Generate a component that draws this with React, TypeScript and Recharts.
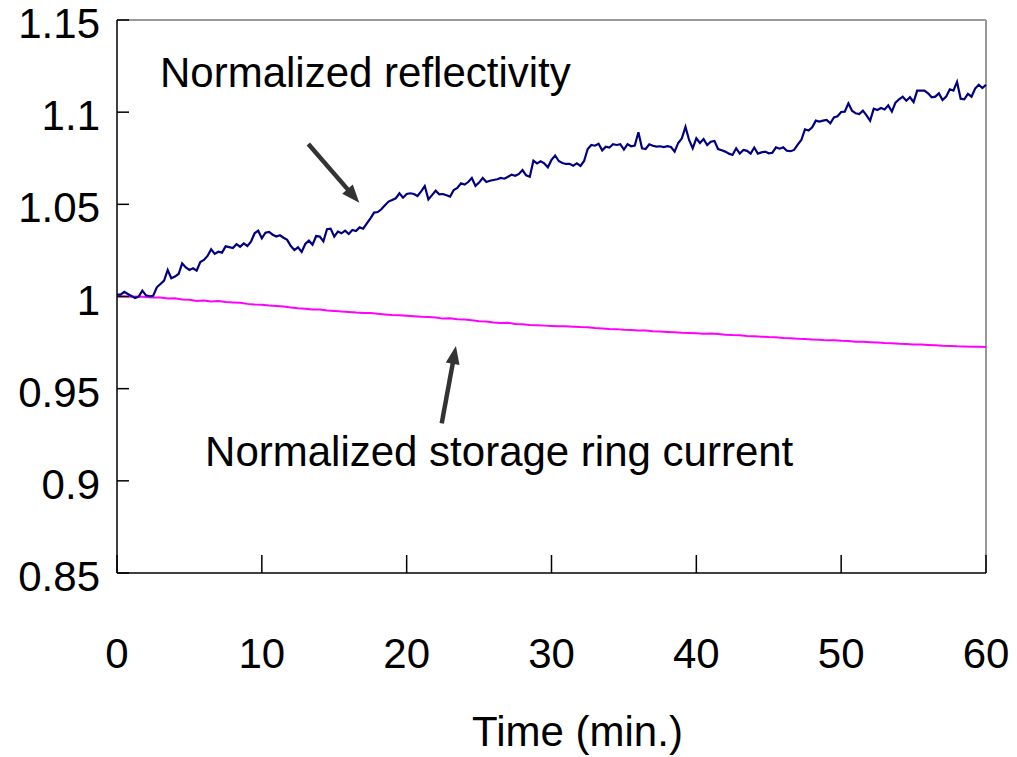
import React from 'react';
import { LineChart, Line, XAxis, YAxis, ReferenceLine, ReferenceDot, Label } from 'recharts';

// sampling steps (minutes)
const REFL_STEP = 0.25;
const CURRENT_STEP = 0.5;

const timeTicks = [0, 10, 20, 30, 40, 50, 60];
const valueTicks = [0.85, 0.9, 0.95, 1, 1.05, 1.1, 1.15];

// normalized reflectivity, one reading every 0.25 min from 0 to 60
const reflectivity = [
  1.001, 1.001, 1.0025, 1.0014, 1.0003, 0.9992, 0.9999, 1.0032, 1.0006, 1.0001,
  1.0004, 1.005, 1.0068, 1.0086, 1.0144, 1.0099, 1.0108, 1.0122, 1.018, 1.0158,
  1.0144, 1.0153, 1.014, 1.0187, 1.0198, 1.022, 1.0256, 1.0231, 1.0243, 1.0238,
  1.0272, 1.0268, 1.0263, 1.0284, 1.027, 1.0288, 1.0274, 1.0297, 1.0343, 1.0357,
  1.0316, 1.0346, 1.035, 1.0335, 1.0325, 1.0332, 1.0319, 1.0307, 1.0274, 1.0252,
  1.0267, 1.0242, 1.0285, 1.0303, 1.0281, 1.0328, 1.0325, 1.0299, 1.0365, 1.0368,
  1.0325,
  1.0352, 1.0343, 1.0357, 1.0339, 1.0361, 1.0355, 1.0375, 1.0368, 1.0397, 1.0424,
  1.0455, 1.0458, 1.0473, 1.0495, 1.0515, 1.0524, 1.0533, 1.056, 1.0536, 1.0556,
  1.056, 1.0556, 1.0545, 1.057, 1.0599, 1.0527, 1.055, 1.0574, 1.0554, 1.0556,
  1.0549, 1.0542, 1.0578, 1.0589, 1.0614, 1.0607, 1.0621, 1.0643, 1.06, 1.0618,
  1.0643, 1.0621, 1.0628, 1.0632, 1.0636, 1.0643, 1.0639, 1.065, 1.0661, 1.0655,
  1.0665, 1.0686, 1.0657, 1.065, 1.0737, 1.0722, 1.0733, 1.0722, 1.0701, 1.0741,
  1.0765, 1.0735, 1.0724, 1.0719, 1.072, 1.071, 1.0722, 1.0708, 1.0735, 1.08,
  1.0822, 1.0818, 1.0829, 1.0793, 1.0813, 1.0808, 1.0826, 1.0822, 1.0826, 1.0797,
  1.0826, 1.0815, 1.0819, 1.0891, 1.0804, 1.08, 1.0826, 1.0818, 1.0813, 1.0815,
  1.0811, 1.0816, 1.0811, 1.0786, 1.0833, 1.0858, 1.092, 1.0849, 1.0804, 1.0858,
  1.0833, 1.0854, 1.0822, 1.084, 1.0844, 1.08, 1.0793, 1.0786, 1.0775, 1.0768,
  1.0804, 1.0775, 1.0795, 1.079, 1.0775, 1.0808, 1.0775, 1.0782, 1.0786, 1.0777,
  1.078, 1.0809, 1.0802, 1.0809, 1.0791, 1.0788, 1.0795, 1.0824, 1.0849, 1.0907,
  1.09, 1.0918, 1.0954, 1.0949, 1.0954, 1.0958, 1.094, 1.0972, 1.0978, 1.1001,
  1.1003, 1.1048, 1.1008, 1.0994, 1.099, 1.1008, 1.0983, 1.0954, 1.1019, 1.1012,
  1.1023, 1.1015, 1.1037, 1.1003, 1.1052, 1.107, 1.1084, 1.1062, 1.1081, 1.1055,
  1.1117, 1.1117, 1.1117, 1.1102, 1.1081, 1.1084, 1.1102, 1.1066, 1.1084, 1.1124,
  1.1117, 1.1164, 1.1073, 1.107, 1.1099, 1.1084, 1.1128, 1.1149, 1.1131, 1.1149,
];

// normalized storage ring current, one reading every 0.5 min from 0 to 60
const ringCurrent = [
  1.0, 1.0, 0.9999, 1.0, 0.9997, 0.9994, 0.9995, 0.9989, 0.999, 0.9984,
  0.9982, 0.9976, 0.9978, 0.9973, 0.9975, 0.997, 0.9968, 0.9966, 0.996, 0.9957,
  0.9955, 0.9951, 0.9949, 0.9946, 0.994, 0.9936, 0.9933, 0.9929, 0.993, 0.9924,
  0.9922, 0.9918, 0.9916, 0.9913, 0.9911, 0.991, 0.9906, 0.9903, 0.99, 0.9898,
  0.9896, 0.9893, 0.989, 0.9889, 0.9886, 0.988, 0.9882, 0.9876, 0.9875, 0.9871,
  0.9866, 0.9864, 0.9859, 0.9856, 0.9857, 0.9851, 0.9849, 0.9846, 0.9844, 0.9842,
  0.984, 0.9838, 0.9838, 0.9836, 0.9834, 0.9833, 0.9829, 0.9827, 0.9824, 0.9823,
  0.982, 0.9818, 0.9816, 0.9815, 0.9812, 0.981, 0.9808, 0.9806, 0.9803, 0.9802,
  0.98, 0.9798, 0.9799, 0.9796, 0.9793, 0.9791, 0.979, 0.9786, 0.9784, 0.9782,
  0.978, 0.9779, 0.9775, 0.9774, 0.9771, 0.977, 0.9767, 0.9766, 0.9762, 0.9763,
  0.976, 0.9758, 0.9755, 0.9754, 0.9752, 0.975, 0.9748, 0.9747, 0.9744, 0.9742,
  0.974, 0.9739, 0.9737, 0.9735, 0.9733, 0.9732, 0.973, 0.9729, 0.9728, 0.9727,
  0.9726,
];

const reflData = reflectivity.map((v, i) => ({ t: i * REFL_STEP, v }));
const currentData = ringCurrent.map((v, i) => ({ t: i * CURRENT_STEP, v }));

const FONT = '"Liberation Sans", Arial, sans-serif';
const FONT_SIZE = 42;
const Y_TICK_MARGIN = 17;
const X_TICK_MARGIN = 65;

const YTick = ({ x, y, payload }: any) => (
  <g>
    <line x1={x + Y_TICK_MARGIN} x2={x + Y_TICK_MARGIN + 12} y1={y} y2={y} stroke="#000" strokeWidth={1.5} />
    <text x={x} y={y} dy="0.43em" textAnchor="end" fontFamily={FONT} fontSize={FONT_SIZE} fill="#000">
      {payload.value}
    </text>
  </g>
);

const XTick = ({ x, y, payload }: any) => (
  <g>
    <line x1={x} x2={x} y1={y - X_TICK_MARGIN} y2={y - X_TICK_MARGIN - 18} stroke="#000" strokeWidth={1.5} />
    <text x={x} y={y} dy="0.71em" textAnchor="middle" fontFamily={FONT} fontSize={FONT_SIZE} fill="#000">
      {payload.value}
    </text>
  </g>
);

// thick pointer with a filled head at the second point
const Arrow = ({ x1, y1, x2, y2 }: any) => {
  const dx = x2 - x1;
  const dy = y2 - y1;
  const len = Math.hypot(dx, dy) || 1;
  const ux = dx / len;
  const uy = dy / len;
  const headLen = 18;
  const half = 7;
  const bx = x2 - ux * headLen;
  const by = y2 - uy * headLen;
  const pts = `${x2},${y2} ${bx - uy * half},${by + ux * half} ${bx + uy * half},${by - ux * half}`;
  return (
    <g>
      <line x1={x1} y1={y1} x2={bx + ux * 2} y2={by + uy * 2} stroke="#333" strokeWidth={4.5} />
      <polygon points={pts} fill="#333" />
    </g>
  );
};

const note = (text: string) => (p: any) => (
  <text x={p.cx} y={p.cy} textAnchor="start" fontFamily={FONT} fontSize={FONT_SIZE} fill="#000">
    {text}
  </text>
);

export default function App() {
  return (
    <div style={{ position: 'absolute', left: 0, top: 0, background: '#fff' }}>
      <LineChart width={1017} height={757} margin={{ top: 20, right: 31, bottom: 0, left: 0 }}>
        <XAxis
          type="number"
          dataKey="t"
          domain={[0, 60]}
          ticks={timeTicks}
          allowDuplicatedCategory={false}
          height={184}
          tickSize={0}
          tickMargin={X_TICK_MARGIN}
          tickLine={false}
          axisLine={{ stroke: '#000', strokeWidth: 1.5 }}
          tick={<XTick />}
        >
          <Label
            content={({ viewBox }: any) => (
              <text
                x={viewBox.x + viewBox.width / 2 + 26}
                y={viewBox.y + 173}
                textAnchor="middle"
                fontFamily={FONT}
                fontSize={FONT_SIZE}
                fill="#000"
              >
                Time (min.)
              </text>
            )}
          />
        </XAxis>
        <YAxis
          type="number"
          domain={[0.85, 1.15]}
          ticks={valueTicks}
          width={117}
          tickSize={0}
          tickMargin={Y_TICK_MARGIN}
          tickLine={false}
          axisLine={{ stroke: '#000', strokeWidth: 1.5 }}
          tick={<YTick />}
          interval={0}
        />
        <ReferenceLine y={1.15} stroke="#999" strokeWidth={2} />
        <ReferenceLine x={60} stroke="#999" strokeWidth={2} />
        <Line
          data={currentData}
          dataKey="v"
          stroke="#ff00ff"
          strokeWidth={2}
          dot={false}
          isAnimationActive={false}
        />
        <Line
          data={reflData}
          dataKey="v"
          stroke="#000080"
          strokeWidth={2.2}
          dot={false}
          isAnimationActive={false}
        />
        <ReferenceLine
          segment={[{ x: 13.21, y: 1.0827 }, { x: 16.73, y: 1.0509 }]}
          shape={Arrow}
        />
        <ReferenceLine
          segment={[{ x: 22.42, y: 0.9312 }, { x: 23.4, y: 0.9731 }]}
          shape={Arrow}
        />
        <ReferenceDot x={2.97} y={1.1137} r={0} shape={note('Normalized reflectivity')} />
        <ReferenceDot x={6.08} y={0.908} r={0} shape={note('Normalized storage ring current')} />
      </LineChart>
    </div>
  );
}
